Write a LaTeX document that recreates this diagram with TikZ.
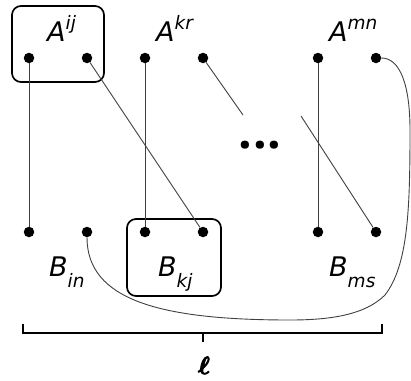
\documentclass[tikz,border=0pt]{standalone}
\usepackage{fontspec}
\setmainfont{DejaVu Sans}
\newfontfamily\dotfont{Open Sans}
\newcommand\upidx[1]{\raisebox{12pt}{\fontsize{18.5}{19}\selectfont #1}}
\newcommand\loidx[1]{\raisebox{-11pt}{\fontsize{18.5}{19}\selectfont #1}}
% heavier stroke for the summation symbol
\newcommand\heavy[1]{\special{pdf:literal direct 2 Tr 0.9 w}#1\special{pdf:literal direct 0 Tr}}
\tikzset{
  pin/.style={circle, fill=black, inner sep=0pt, minimum size=10.5pt},
  wire/.style={draw=black!75, line width=0.9pt},
  groupbox/.style={draw=black, line width=1.7pt, rounded corners=9pt},
  lbl/.style={inner sep=0pt, anchor=base west, font=\fontsize{27}{29}\selectfont\itshape},
  brace/.style={draw=black, line width=1.5pt}
}
\begin{document}
\begin{tikzpicture}[x=1pt, y=-1pt]
  \useasboundingbox (0,0) rectangle (411,380);

  % upper row of index pins
  \foreach \n/\x in {1/29, 2/87, 3/145, 4/203, 5/318, 6/376}
    \node[pin] (a\n) at (\x,58) {};
  % lower row of index pins
  \foreach \n/\x in {1/29, 2/87, 3/145, 4/203, 5/318, 6/376}
    \node[pin] (b\n) at (\x,232) {};

  % tensor labels
  \node[lbl] (la1) at (47,41) {A\upidx{ij}};
  \node[lbl] (la2) at (156,41) {A\upidx{kr}};
  \node[lbl] (la3) at (329,41) {A\upidx{mn}};
  \node[lbl] (lb1) at (49,276) {B\loidx{in}};
  \node[lbl] (lb2) at (158,276) {B\loidx{kj}};
  \node[lbl] (lb3) at (329,276) {B\loidx{ms}};

  % grouping boxes
  \draw[groupbox] (12,6) rectangle (104,82);
  \draw[groupbox] (127,219) rectangle (221,296);

  % ellipsis
  \node[inner sep=0pt, font=\fontsize{48}{48}\selectfont\dotfont\bfseries] (dots) at (260,145) {.\kern0.5pt.\kern0.5pt.};

  % contractions
  \draw[wire] (a1) -- (b1);
  \draw[wire] (a2) -- (b4);
  \draw[wire] (a3) -- (b3);
  \draw[wire] (a5) -- (b5);
  \coordinate (gapA) at (243,115);
  \coordinate (gapB) at (301,116);
  \draw[wire] (a4) -- (gapA);
  \draw[wire] (gapB) -- (b6);
  \draw[wire] (a6) .. controls (400,58) and (410,85) .. (410,130)
                   .. controls (410,210) and (408,265) .. (385,295)
                   .. controls (365,315) and (330,320) .. (290,320)
                   .. controls (160,320) and (87,300) .. (b2);

  % summation brace
  \coordinate (brL) at (23,324);
  \coordinate (brR) at (382,324);
  \coordinate (brM) at (203,333);
  \draw[brace] (brL) -- (23,333) -- (382,333) -- (brR);
  \draw[brace] (brM) -- (203,342);
  \node[inner sep=0pt, anchor=base, font=\fontsize{34}{34}\selectfont\mathversion{bold}] (ell) at (204,374) {\heavy{$\ell$}};
\end{tikzpicture}
\end{document}
